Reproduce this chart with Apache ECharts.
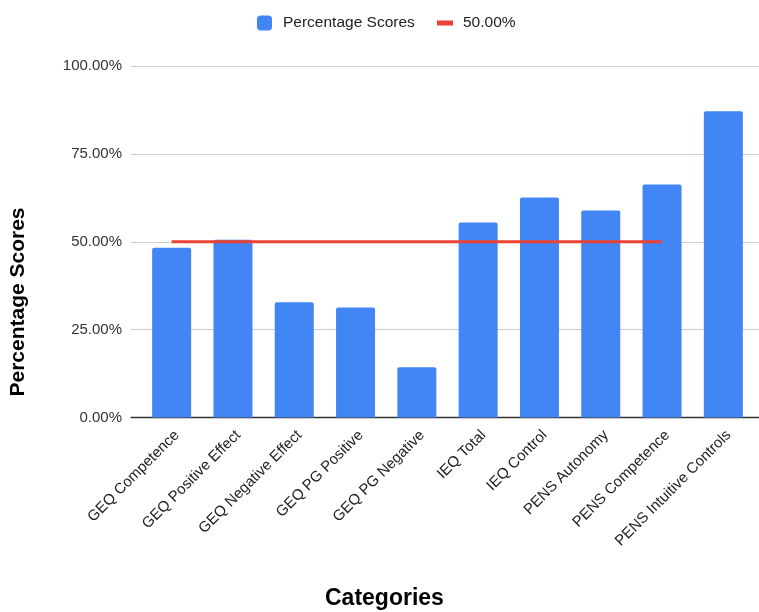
<!DOCTYPE html>
<html><head><meta charset="utf-8">
<script src="https://cdn.jsdelivr.net/npm/echarts@6/dist/echarts.min.js"></script>
<style>html,body{margin:0;padding:0;background:#fff;overflow:hidden}#c{width:759px;height:612px}</style>
</head><body><div id="c"></div>
<script>
const categories = ['GEQ Competence','GEQ Positive Effect','GEQ Negative Effect','GEQ PG Positive','GEQ PG Negative','IEQ Total','IEQ Control','PENS Autonomy','PENS Competence','PENS Intuitive Controls'];
const percentageScores = [48.3, 50.6, 32.8, 31.3, 14.3, 55.5, 62.6, 58.9, 66.3, 87.1];
const referenceLine = [50, 50, 50, 50, 50, 50, 50, 50, 50, null];
const yTicks = [0, 25, 50, 75, 100];

const chart = echarts.init(document.getElementById('c'), null, {renderer:'canvas', width: 759, height: 612});
const font = 'Arial, "Liberation Sans", sans-serif';
const plotTop = 66, plotHeight = 351.5;
chart.setOption({
  animation: false,
  textStyle: {fontFamily: font},
  title: {text: 'Categories', left: 320, top: 582,
    textStyle: {fontSize: 23, fontWeight: 'bold', color: '#000', fontFamily: font}},
  graphic: [{type: 'text', x: 18, y: 302, rotation: Math.PI / 2,
    style: {text: 'Percentage Scores', fontSize: 21, fontWeight: 'bold', fill: '#000', fontFamily: font,
      align: 'center', verticalAlign: 'middle'}}],
  legend: [
    {data:['Percentage Scores'], left: 252, top: 10, itemWidth: 15, itemHeight: 15,
     textStyle:{fontSize:15.5, color:'#222', fontFamily: font, padding:[0,0,0,6]}},
    {data:[{name: '50.00%', icon: 'rect'}], left: 432, top: 10, itemWidth: 16, itemHeight: 5,
     textStyle:{fontSize:15.5, color:'#222', fontFamily: font, padding:[0,0,0,5]}}
  ],
  grid: [
    {left: 141, right: 5, top: plotTop, height: plotHeight},
    {left: 131, right: 0, top: plotTop, height: plotHeight}
  ],
  xAxis: [{
    type: 'category', data: categories, gridIndex: 0,
    axisLine: {show: false},
    axisTick: {show: false},
    axisLabel: {rotate: 45, fontSize: 15, color: '#222', margin: 10, interval: 0, fontFamily: font, verticalAlign: 'top'}
  }, {
    type: 'value', gridIndex: 1, min: 0, max: 1,
    axisLine: {show: true, onZero: false, lineStyle: {color: '#333', width: 1.3}},
    axisTick: {show: false}, axisLabel: {show: false}, splitLine: {show: false}
  }],
  yAxis: [{
    type: 'value', gridIndex: 0, min: 0, max: 100, interval: 25,
    axisLabel: {formatter: v => yTicks.includes(v) ? v.toFixed(2) + '%' : '', fontSize: 15, color: '#333', margin: 19, fontFamily: font},
    axisLine: {show: false}, axisTick: {show: false},
    splitLine: {show: false}
  }, {
    type: 'value', gridIndex: 1, min: 0, max: 100, interval: 25,
    axisLabel: {show: false}, axisLine: {show: false}, axisTick: {show: false},
    splitLine: {lineStyle: {color: '#ccc', width: 1}}
  }],
  series: [
    {name: 'Percentage Scores', type: 'bar', data: percentageScores, barWidth: 39,
     xAxisIndex: 0, yAxisIndex: 0,
     itemStyle: {color: '#4285F4', borderRadius: [2,2,0,0]}},
    {name: '50.00%', type: 'line', data: referenceLine, symbol: 'none', connectNulls: false,
     xAxisIndex: 0, yAxisIndex: 0, z: 3,
     lineStyle: {color: '#EA4335', width: 3}, itemStyle: {color: '#EA4335'}}
  ]
});
</script></body></html>
